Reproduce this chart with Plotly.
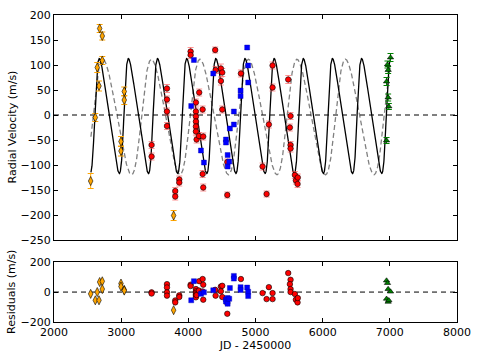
import numpy as np
import plotly.graph_objects as go
from plotly.subplots import make_subplots

# ---- data ----
# orange diamonds
orange_jd = [2546, 2615, 2644, 2670, 2680, 2719, 2719, 2997, 2997, 3046, 3046, 3781]
orange_rv = [-132, -5, 95, 58, 173, 158, 109, -53, -72, 47, 30, -201]
orange_err = [15, 8, 10, 10, 8, 8, 8, 10, 10, 9, 9, 10]
orange_res = [-12, -55, 0, -55, 67, 72, 20, 57, 37, 15, 10, -121]

# red circles
red_jd = [3453, 3453, 3682, 3682, 3682, 3682, 3805, 3805, 3865, 3865,
          4034, 4034, 4113, 4113, 4113, 4113, 4113, 4113, 4123, 4158,
          4162, 4213, 4213, 4222, 4222, 4400, 4406, 4485, 4505, 4485,
          4505, 4580, 4580, 4783, 5105, 5165, 5199, 5254, 5254, 5487,
          5522, 5512, 5522, 5522, 5586, 5601, 5626, 5630]
red_rv = [-60, -83, 53, 31, 7, -22, -152, -163, -129, -135,
          127, 120, 25, 7, -3, -13, -23, -33, -49, -42,
          45, 11, -118, -43, -145, 130, 90, 93, 85, 68,
          11, -94, -160, 83, -103, -158, -19, 99, 55, 71,
          -2, -25, -60, -67, -120, -131, -138, -125]
red_err = [7, 7, 8, 7, 7, 7, 7, 7, 7, 7,
           8, 7, 7, 7, 7, 7, 7, 7, 7, 7,
           7, 7, 7, 7, 7, 6, 7, 9, 8, 8,
           7, 6, 6, 7, 7, 6, 7, 7, 7, 8,
           7, 7, 7, 7, 7, 7, 7, 7]
red_res = [-2, -10, 53, 31, -2, -24, -56, -69, -22, -33,
           49, 40, 20, 5, -5, -15, -25, -35, -20, 10,
           73, 87, 4, 49, -51, 15, -24, 37, 42, 5,
           -33, -73, -145, 87, -7, -47, 33, -7, -47, 127,
           82, 53, 20, 0, -13, -51, -69, -40]

# blue squares
blue_jd = [4043, 4083, 4188, 4232, 4371, 4560, 4560, 4585, 4585, 4609,
           4619, 4678, 4678, 4778, 4778, 4876, 4891, 4891]
blue_rv = [18, 110, -71, -95, 83, -49, -55, -80, -103, -93,
           -27, 7, -19, 49, 38, 135, 99, 65]
blue_res = [-55, 73, -12, -2, 12, -50, -63, -78, -40, -45,
            27, 108, 90, 33, 14, 30, 2, -27]

# green triangles
green_jd = [6951, 6951, 6965, 6975, 6975, 6985, 7010]
green_rv = [67, -51, 101, 90, 35, 17, 115]
green_err = [8, 6, 7, 7, 7, 6, 8]
green_res = [77, -45, 60, 20, -65, -55, 3]

# model orbits: period, K, e, omega, time of periastron, offset
model_solid = dict(P=434.0, K=115.0, e=0.30, w=-np.pi / 2, tp=2606.0, gamma=-2.0)
model_dashed = dict(P=722.0, K=115.5, e=0.14, w=-np.pi / 2, tp=2580.0, gamma=-4.0)
model_span = (2550, 7012)


def keplerian(t, P, K, e, w, tp, gamma):
    M = 2 * np.pi * (t - tp) / P
    E = M.copy()
    for _ in range(30):
        E = E - (E - e * np.sin(E) - M) / (1 - e * np.cos(E))
    nu = 2 * np.arctan2(np.sqrt(1 + e) * np.sin(E / 2), np.sqrt(1 - e) * np.cos(E / 2))
    return gamma + K * (np.cos(nu + w) + e * np.cos(w))


t_model = np.linspace(model_span[0], model_span[1], 3000)

fig = make_subplots(rows=2, cols=1, shared_xaxes=False, vertical_spacing=0.0)

# model curves
fig.add_trace(go.Scatter(x=t_model, y=keplerian(t_model, **model_dashed), mode="lines",
                         line=dict(color="#808080", width=1.3, dash="5px,3px")), row=1, col=1)
fig.add_trace(go.Scatter(x=t_model, y=keplerian(t_model, **model_solid), mode="lines",
                         line=dict(color="black", width=1.3)), row=1, col=1)

# zero lines
for r in (1, 2):
    fig.add_trace(go.Scatter(x=[2000, 8000], y=[0, 0], mode="lines",
                             line=dict(color="black", width=1, dash="5px,4px")), row=r, col=1)

datasets = [
    (orange_jd, orange_rv, orange_err, orange_res, "diamond-tall", "#FFA500", "#FFA500", 6.5),
    (red_jd, red_rv, red_err, red_res, "circle", "#FF0000", "rgba(255,80,80,0.6)", 5.5),
    (blue_jd, blue_rv, None, blue_res, "square", "#0000FF", None, 5),
    (green_jd, green_rv, green_err, green_res, "triangle-up", "#008000", "#008000", 5.5),
]
for jd, rv, err, res, sym, col, ecol, size in datasets:
    edge = dict(color="black", width=0.6) if sym != "square" else dict(color="#0000AA", width=0.4)
    ey = dict(type="data", array=err, color=ecol, thickness=1, width=3) if err else None
    fig.add_trace(go.Scatter(x=jd, y=rv, mode="markers", error_y=ey,
                             marker=dict(symbol=sym, color=col, size=size, line=edge)),
                  row=1, col=1)
    fig.add_trace(go.Scatter(x=jd, y=res, mode="markers",
                             marker=dict(symbol=sym, color=col, size=size, line=edge)),
                  row=2, col=1)

axis_style = dict(showline=True, linecolor="black", linewidth=1, mirror="ticks",
                  ticks="inside", ticklen=4, tickcolor="black", showgrid=False,
                  zeroline=False, automargin=False, tickfont=dict(size=11, color="black"))

fig.update_xaxes(range=[2000, 8000], dtick=1000, **axis_style)
fig.update_xaxes(showticklabels=False, row=1, col=1)
fig.update_xaxes(title=dict(text="JD - 2450000", font=dict(size=11, color="black"), standoff=0),
                 row=2, col=1)
fig.update_yaxes(**axis_style)
fig.update_yaxes(range=[-250, 200], dtick=50, domain=[0.267, 1.0], row=1, col=1)
fig.update_yaxes(range=[-200, 200], dtick=200, domain=[0.0, 0.195], row=2, col=1)

# y titles placed as annotations (standoff is ignored without automargin)
for text, ypos in (("Radial Velocity (m/s)", 0.634), ("Residuals (m/s)", 0.098)):
    fig.add_annotation(text=text, xref="paper", yref="paper", x=-0.104, y=ypos,
                       xanchor="center", yanchor="middle", textangle=-90, showarrow=False,
                       font=dict(size=11, color="black"))

fig.update_layout(
    width=480, height=360,
    margin=dict(l=54, r=23, t=15, b=38),
    paper_bgcolor="white", plot_bgcolor="white",
    showlegend=False,
    font=dict(family="DejaVu Sans", size=11, color="black"),
)

# the page body has a default 8px margin; drop it so the figure fills the window
fig.write_html("out.html", config={"displayModeBar": False},
               post_script="document.body.style.margin='0';")
